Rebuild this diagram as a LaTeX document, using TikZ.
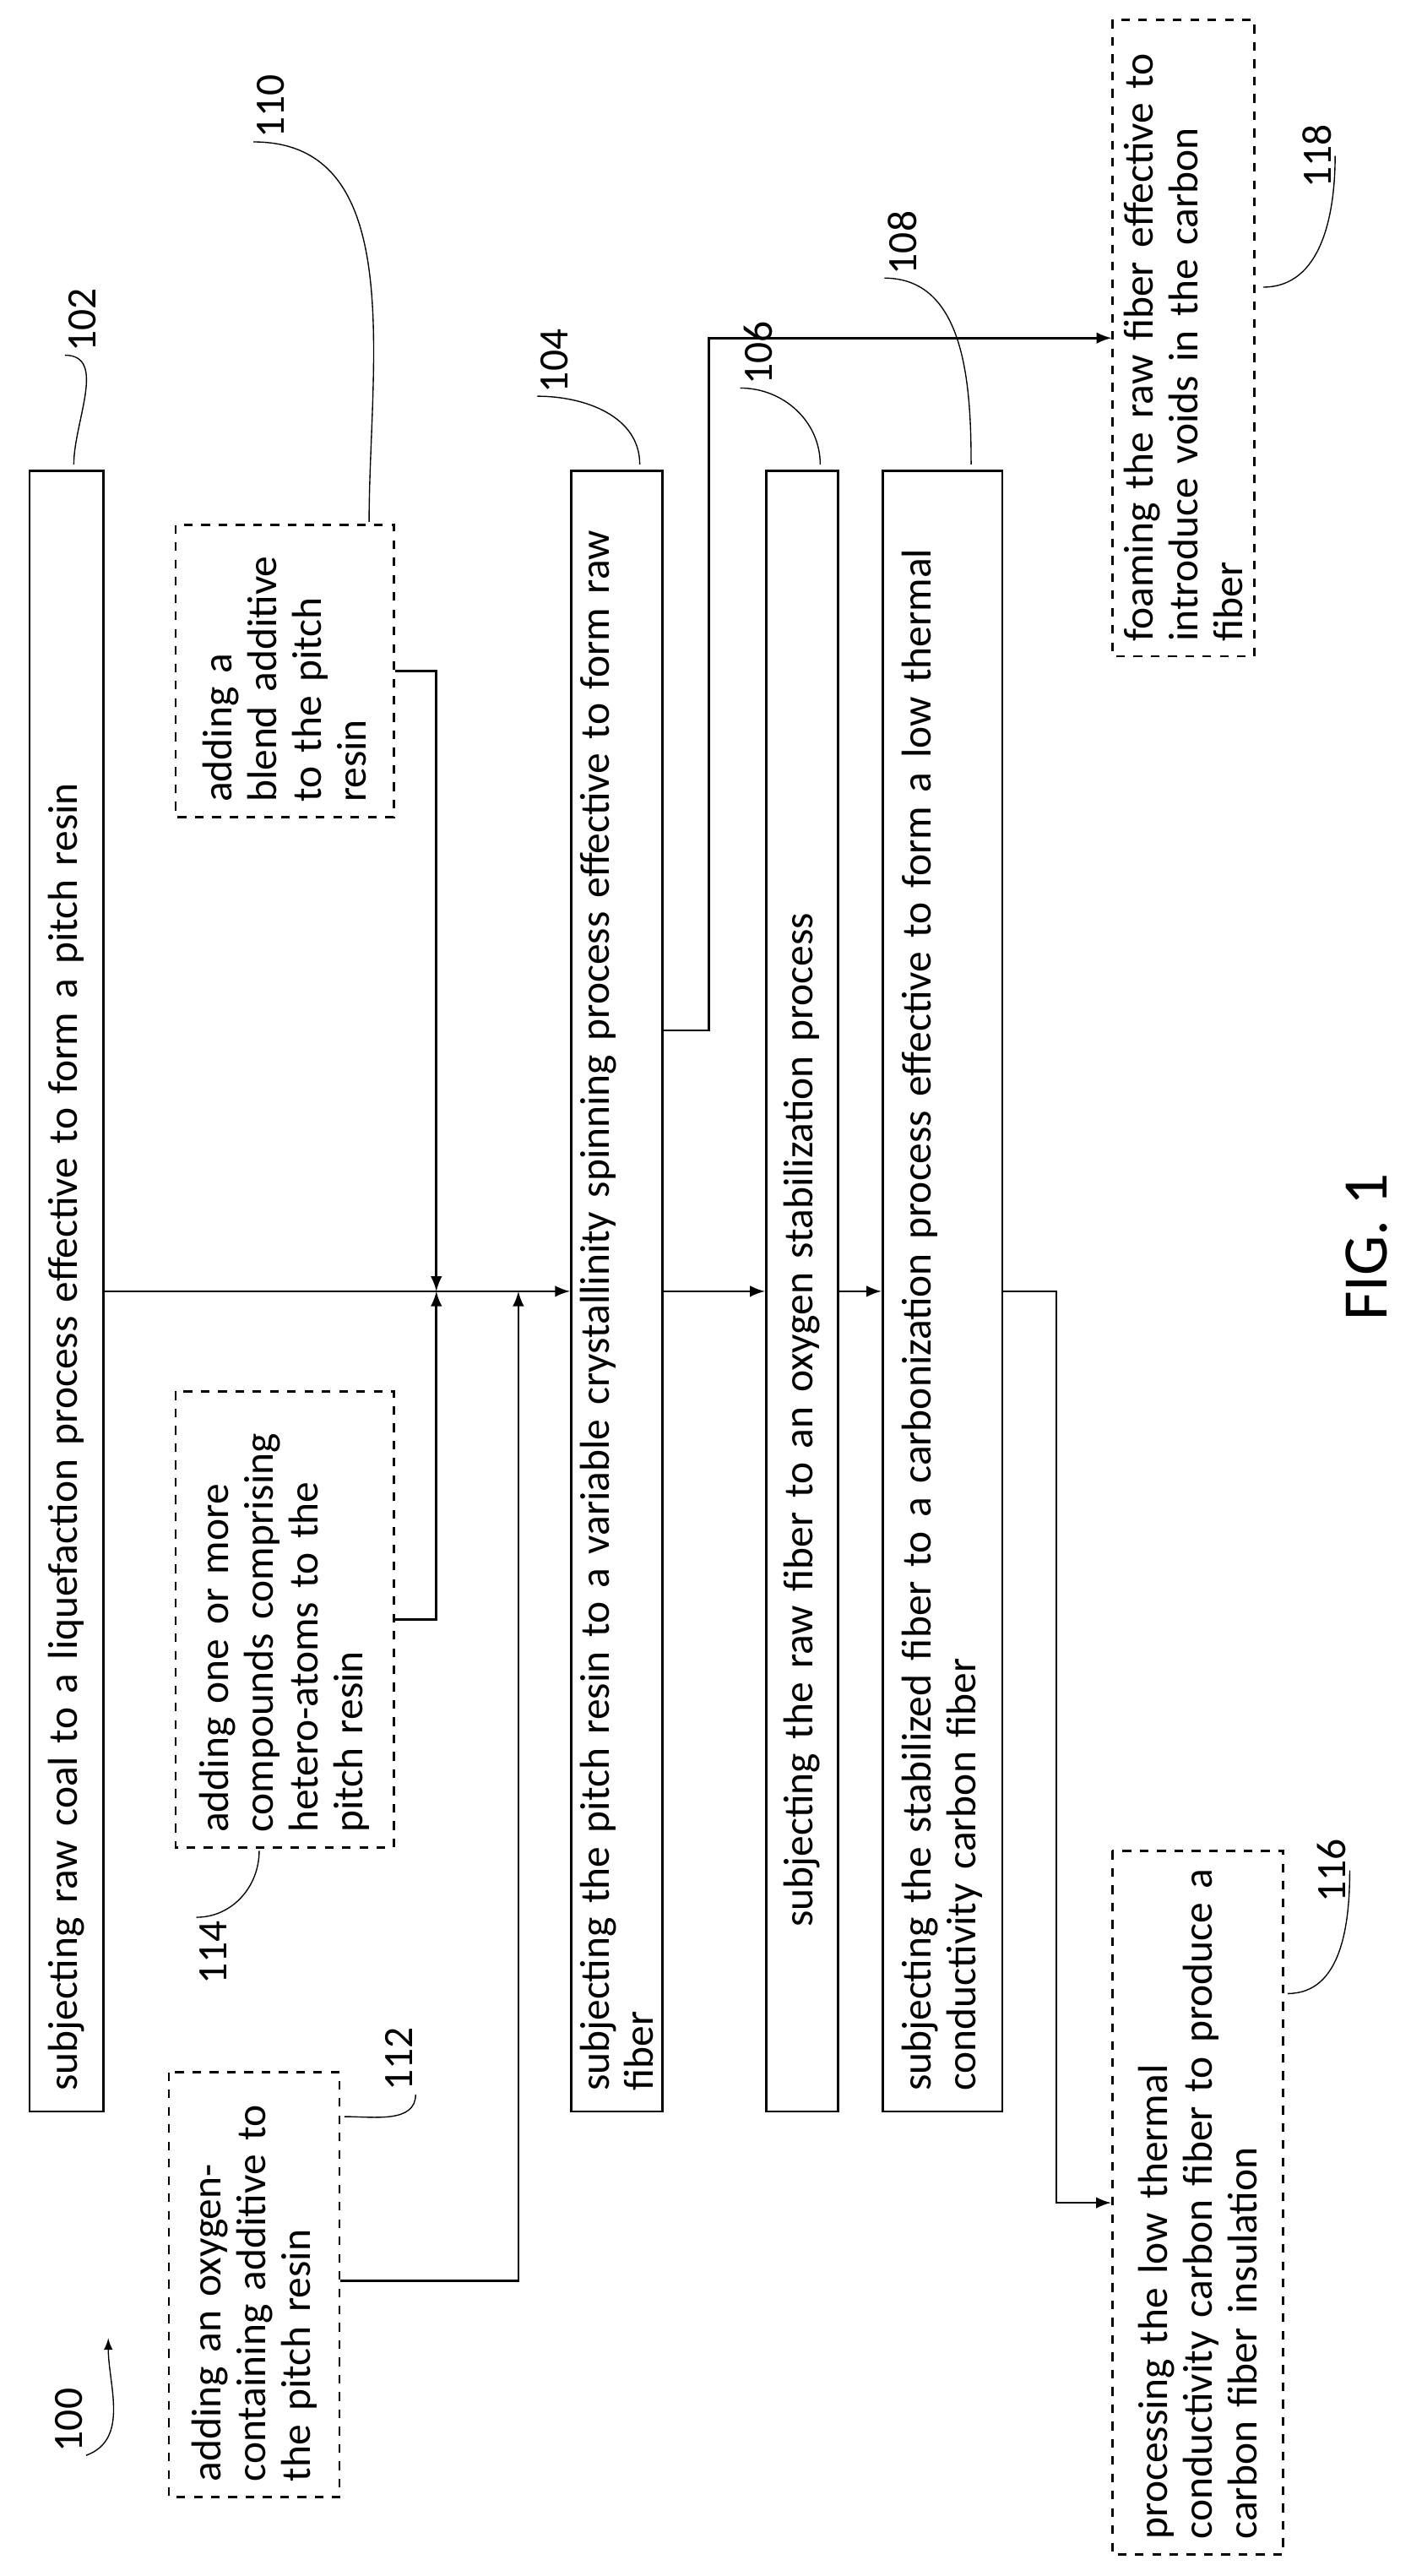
\documentclass[tikz,border=0pt]{standalone}
\usepackage{fontspec}
\setmainfont{Carlito}
\usetikzlibrary{arrows, positioning}
\begin{document}
\begin{tikzpicture}[>=latex, x=0.02cm, y=0.02cm, font=\fontsize{14.5}{15.5}\selectfont,
    stage/.style={draw, thick, rotate=90, minimum width=20cm, align=left, inner sep=3pt},
    opt/.style={draw, thick, dashed, rotate=90, align=left, inner sep=4pt},
    lbl/.style={rotate=90, inner sep=1pt}]
\useasboundingbox (0,0) rectangle (860,-1570);

\node[stage, minimum height=0.9cm, text width=19.5cm] (coal) at (40.5,-787) {subjecting raw coal to a liquefaction process effective to form a pitch resin};
\node[stage, minimum height=0.88cm, text width=19.5cm] (spin) at (376,-787) {subjecting the pitch resin to a variable crystallinity spinning process effective to form raw fiber};
\node[stage, minimum height=0.88cm, text width=15.5cm] (stab) at (489,-787) {subjecting the raw fiber to an oxygen stabilization process};
\node[stage, minimum height=1.46cm, text width=19.5cm] (carb) at (574.5,-787) {subjecting the stabilized fiber to a carbonization process effective to form a low thermal\\conductivity carbon fiber};

\node[opt, minimum width=3.56cm, minimum height=2.66cm, text width=3.2cm] (blend) at (173.5,-409) {adding a\\blend additive\\to the pitch\\resin\\[8pt]};
\node[opt, minimum width=5.56cm, minimum height=2.66cm, text width=5.2cm] (hetero) at (173.5,-987) {adding one or more\\compounds comprising\\hetero-atoms to the\\pitch resin};
\node[opt, minimum width=5.18cm, minimum height=2.08cm, text width=4.8cm] (oxy) at (155,-1392.5) {adding an oxygen-\\containing additive to\\the pitch resin};
\node[opt, minimum width=8.58cm, minimum height=2.08cm, text width=8.2cm] (insul) at (730,-1342.5) {processing the low thermal\\conductivity carbon fiber to produce a\\carbon fiber insulation};
\node[opt, minimum width=7.76cm, minimum height=1.62cm, text width=7.4cm] (foam) at (721.5,-206) {foaming the raw fiber effective to\\introduce voids in the carbon fiber};

% junctions
\coordinate (jblend) at (266,-787);
\coordinate (joxy) at (316,-787);

\draw[thick, ->] (coal) -- (spin);
\draw[thick, ->] (blend.south |- 0,-409) -| (jblend);
\draw[thick, ->] (hetero.south |- 0,-987) -| (jblend);
\draw[thick, ->] (oxy.south |- 0,-1390) -| (joxy);
\draw[thick, ->] (spin) -- (stab);
\draw[thick, ->] (stab) -- (carb);
\draw[thick, ->] (carb.south |- 0,-787) -- (644,-787) |- (insul);
\draw[thick, ->] (spin.south |- 0,-628) -- (432,-628) |- (foam);

% reference numerals
\node[lbl] (n102) at (50,-195) {102};
\node[lbl] (n110) at (165,-65) {110};
\node[lbl] (n104) at (338,-220) {104};
\node[lbl] (n106) at (462,-215) {106};
\node[lbl] (n108) at (550,-148) {108};
\node[lbl] (n118) at (803,-95) {118};
\node[lbl] (n116) at (812,-1140) {116};
\node[lbl] (n114) at (130,-1190) {114};
\node[lbl] (n112) at (243,-1255) {112};
\node[lbl] (n100) at (42,-1475) {100};
\node[rotate=90, font=\fontsize{22}{24}\selectfont] (fig) at (833,-760) {FIG. 1};

\draw (n102.north west) to[out=0,in=90] (45,-283);
\draw (n110.north west) to[out=0,in=90] (225,-318);
\draw (n104.north west) to[out=0,in=90] (390,-283);
\draw (n106.north west) to[out=0,in=90] (500,-283);
\draw (n108.north west) to[out=0,in=90] (592,-283);
\draw (n118.south) to[out=-90,in=0] (770,-175);
\draw (n116.south) to[out=-90,in=0] (785,-1215);
\draw (n114.north east) to[out=0,in=-90] (158,-1128);
\draw (n112.south west) to[out=-90,in=0] (210,-1290);
\draw[->] (n100.south west) to[out=20,in=-90] (66,-1425);
\end{tikzpicture}
\end{document}
